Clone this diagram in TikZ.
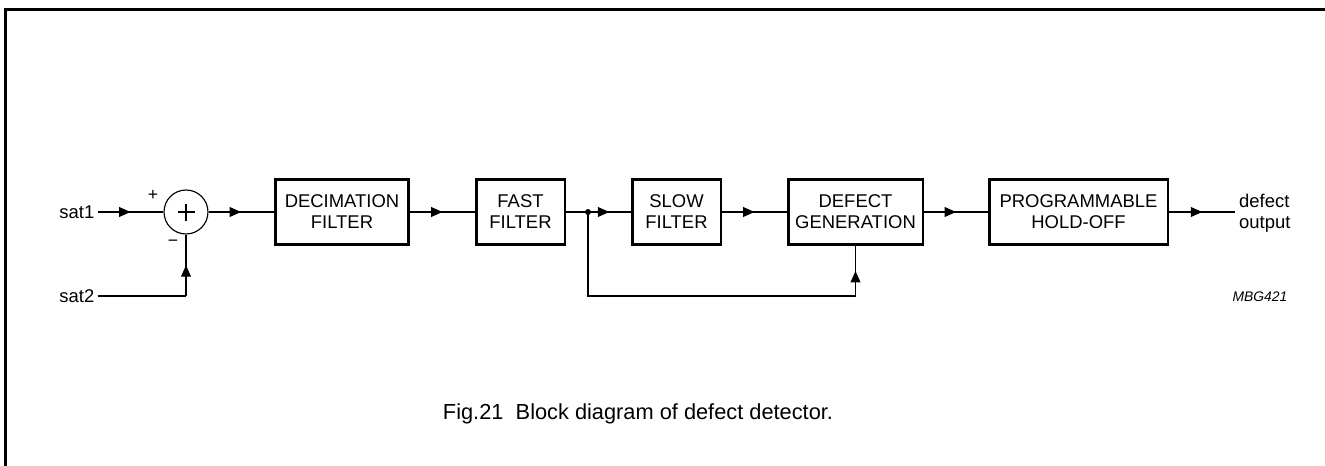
\documentclass[tikz,border=0pt]{standalone}
\usepackage{fontspec}
\setmainfont{Liberation Sans}
\usetikzlibrary{arrows.meta,decorations.markings}
\tikzset{
	block/.style={draw, line width=1.7pt, minimum height=1.3cm, align=center, inner sep=0pt, font=\fontsize{10.5}{12}\selectfont},
	lbl/.style={inner sep=1.5pt, font=\fontsize{10.5}{12}\selectfont},
	midarrow/.style={postaction={decorate}, decoration={markings, mark=at position 0.5 with {\arrow{Triangle[length=6.5pt,width=5.6pt]}}}},
}

\begin{document}
\begin{tikzpicture}[x=0.02cm, y=-0.02cm, line width=0.65pt]
			%%%%% FRAME %%%%%
			\useasboundingbox (0,0) rectangle (1325,466);
			\draw[line width=1.3pt] (5.5,466) -- (5.5,9.5) -- (1325,9.5);
			
			%%%%% BLOCKS %%%%%
			\node[draw, circle, minimum size=0.88cm, inner sep=0pt] (sum) at (186,212) {};
			\draw (sum.center) +(-8.5,0) -- +(8.5,0) +(0,-8.5) -- +(0,8.5);
			
			\node[block, minimum width=2.68cm] (dec) at (342,212) {DECIMATION\\FILTER};
			\node[block, minimum width=1.78cm] (fast) at (520.5,212) {FAST\\FILTER};
			\node[block, minimum width=1.78cm] (slow) at (676.5,212) {SLOW\\FILTER};
			\node[block, minimum width=2.7cm] (defect) at (855.5,212) {DEFECT\\GENERATION};
			\node[block, minimum width=3.58cm] (hold) at (1078.5,212) {PROGRAMMABLE\\HOLD-OFF};
			
			%%%%% LABELS %%%%%
			\node[lbl, anchor=east] (sat1) at (97.5,212) {sat1};
			\node[lbl, anchor=east] (sat2) at (97.5,296) {sat2};
			\node[font=\fontsize{10}{10}\selectfont] (plus) at (153,195) {+};
			\node[font=\fontsize{10}{10}\selectfont] (minus) at (173,243) {−};
			\node[lbl, anchor=west, align=left] (out) at (1236,213) {defect\\output};
			\node[font=\fontsize{7.9}{9}\selectfont\itshape] (code) at (1260,297) {MBG421};
			\node[font=\fontsize{12.4}{14}\selectfont] (caption) at (638,414) {Fig.21\hspace{0.56em}Block diagram of defect detector.};
			
			%%%%% CONNECTIONS %%%%%
			\coordinate (jn) at (588,212);
			\coordinate (fbl) at (588,296);
			\coordinate (fbr) at (defect.south |- fbl);
			\coordinate (subin) at (sum.south |- sat2);
			\coordinate (outend) at (1235,212);
			
			\draw[midarrow] (sat1) -- (sum);
			\draw (sat2) -- (subin);
			\draw[midarrow] (subin) -- (sum);
			\draw[midarrow] (sum) -- (dec);
			\draw[midarrow] (dec) -- (fast);
			\draw (fast) -- (jn);
			\draw[midarrow] (jn) -- (slow);
			\draw[midarrow] (slow) -- (defect);
			\draw[midarrow] (defect) -- (hold);
			\draw[midarrow] (hold) -- (outend);
			\draw (jn) -- (fbl) -- (fbr);
			\draw[midarrow] (fbr) -- (defect);
			\fill (jn) circle (3);
			
			%%%%% END %%%%%
\end{tikzpicture}
\end{document}
